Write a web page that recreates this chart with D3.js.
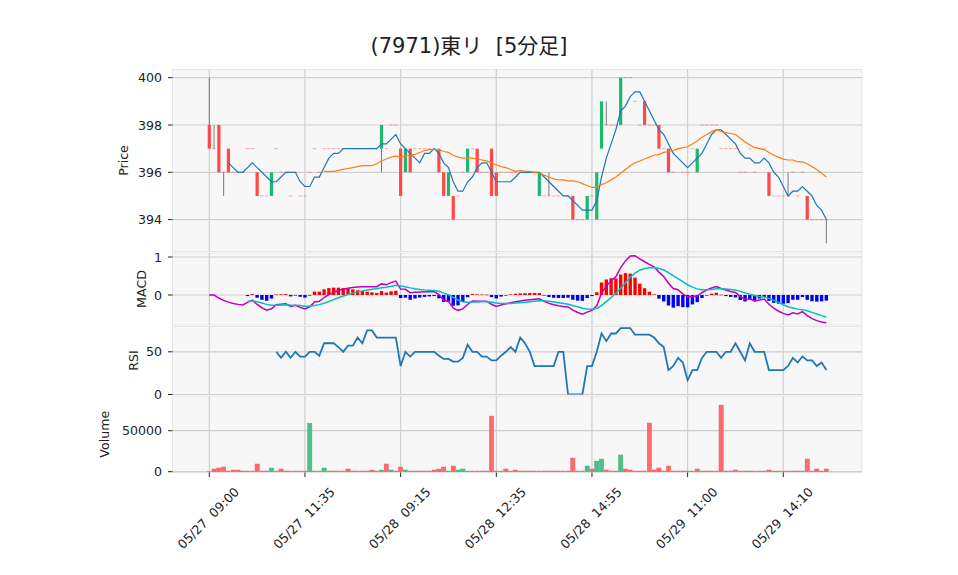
<!DOCTYPE html>
<html><head><meta charset="utf-8">
<script src="https://cdn.jsdelivr.net/npm/d3@7"></script>
<style>
body{margin:0;background:#fff}
text{font-family:"DejaVu Sans","Noto Sans CJK JP",sans-serif;fill:#222}
</style></head>
<body><svg id="c" width="958" height="575"></svg>
<script>
// ---- data ----
const title = "(7971)東リ  [5分足]";
const closes = [397,397,396,396,396,396,396,396,397,397,395,395,395,396,397,396,396,395,396,395,
395,396,397,396,397,397,397,397,397,397,397,397,397,397,397,397,398,397,398,398,
395,397,396,397,397,397,397,397,396,395,396,394,395,396,397,397,396,396,396,395,
395,396,396,396,396,396,396,396,396,396,395,395,395,395,395,395,394,394,394,395,
395,396,399,398,398,398,400,400,400,399,398,398,398,398,397,397,396,396,397,396,
396,397,397,398,398,398,398,397,397,397,397,396,396,397,396,397,397,395,395,395,
395,395,396,395,396,394,394,394,394,394];
const opens = [398,397,398,396,397,396,396,396,397,397,396,395,395,395,397,396,396,395,396,395,
395,396,397,396,397,397,397,397,397,397,397,397,397,397,397,397,397,397,398,398,
397,396,397,397,397,397,397,397,397,396,395,395,395,396,396,397,397,396,396,397,
396,396,396,396,396,396,396,396,396,395,395,395,395,395,395,395,395,394,394,394,
395,394,397,398,398,398,398,400,400,399,398,399,398,398,398,397,397,396,397,396,
396,397,396,398,398,398,398,397,397,397,397,396,396,397,396,397,397,396,395,395,
395,395,396,395,396,395,394,394,394,394];
const highs = [400,398,398,396,397,396,396,396,397,397,396,395,395,396,397,396,396,395,396,395,
395,396,397,396,397,397,397,397,397,397,397,397,397,397,397,397,398,397,398,398,
397,397,397,397,397,397,397,397,397,396,396,395,395,396,397,397,397,396,396,397,
396,396,396,396,396,396,396,396,396,396,395,396,395,395,395,395,395,394,394,395,
395,396,399,399,398,398,400,400,400,399,398,399,398,398,398,397,397,396,397,396,
396,397,397,398,398,398,398,397,397,397,397,396,396,397,396,397,397,396,395,395,
395,396,396,395,396,395,394,394,394,394];
const lows = [397,397,396,395,396,396,396,396,397,397,395,395,395,395,397,396,396,395,396,395,
395,396,397,396,397,397,397,397,397,397,397,397,397,397,397,397,396,397,398,398,
395,396,396,397,397,397,397,397,396,395,395,394,395,396,396,397,396,396,396,395,
395,396,396,396,396,396,396,396,396,395,395,395,395,395,395,395,394,394,394,394,
395,394,397,398,398,398,398,400,400,399,398,398,398,398,397,397,396,396,397,396,
396,397,396,398,398,398,398,397,397,397,397,396,396,397,396,397,397,395,395,395,
395,395,396,395,396,394,394,394,394,393];
const volumes = [300,3250,4470,5690,800,2030,2030,800,800,800,9340,800,800,4470,800,3250,800,800,800,800,
800,59000,800,800,4470,800,800,800,800,3250,800,800,800,800,2000,800,2030,9340,2030,800,
5690,2030,800,800,800,800,800,2030,3250,5690,800,6900,2030,3250,800,800,800,800,800,67800,
800,800,3250,800,2030,800,800,800,800,800,800,800,800,800,800,800,16600,800,800,6900,
3250,12900,15400,2030,800,800,20300,3250,2030,800,800,800,59300,2030,4470,800,6900,800,800,800,
800,800,3250,800,800,800,800,81200,800,800,2030,800,800,800,800,800,800,2030,800,800,
800,800,800,800,800,15400,800,3250,800,3250];
const tickIndex = [0,20,40,60,80,100,120];
const tickLabels = ["05/27  09:00","05/27  11:35","05/28  09:15","05/28  12:35","05/28  14:55","05/29  11:00","05/29  14:10"];
const priceTicks = [394,396,398,400];
const macdTicks = [0,1];
const rsiTicks = [0,50];
const volTicks = [0,50000];

// ---- indicators derived from the closes (as in the original chart) ----
function sma(a,n){return a.map((v,i)=> i<n-1?null:d3.mean(a.slice(i-n+1,i+1)));}
function ema(a,n){const k=2/(n+1);let out=[];a.forEach((v,i)=>{out.push(i===0?v:k*v+(1-k)*out[i-1]);});return out;}
const ma5 = sma(closes,5), ma25 = sma(closes,25);
const e12 = ema(closes,12), e26 = ema(closes,26);
const macd = e12.map((v,i)=>v-e26[i]);
const sigFull = ema(macd,9);
const signal = sigFull.map((v,i)=> i<8?null:v);
const hist = macd.map((v,i)=> i<8?null:v-sigFull[i]);
const rsi = closes.map((v,i)=>{
  if(i<14) return null;
  let g=0,l=0;
  for(let j=i-13;j<=i;j++){const d=closes[j]-closes[j-1]; if(d>0)g+=d; else l-=d;}
  if(g+l===0) return null;
  return 100*g/(g+l);
});

// ---- layout ----
const svg = d3.select("#c");
const L=172.5, R=862;
const FS=12.6;
const x = d3.scaleLinear().domain([0,120]).range([209.3,783.3]);
const panels = {
  price:{top:69.5,bottom:251.5,y:d3.scaleLinear().domain([394,400]).range([219.6,77.7]),ticks:priceTicks,label:"Price",lx:123},
  macd:{top:253,bottom:325,y:d3.scaleLinear().domain([0,1]).range([295,257]),ticks:macdTicks,label:"MACD",lx:141},
  rsi:{top:326.5,bottom:394.5,y:d3.scaleLinear().domain([0,50]).range([394.5,351.8]),ticks:rsiTicks,label:"RSI",lx:133},
  vol:{top:396,bottom:472.5,y:d3.scaleLinear().domain([0,50000]).range([471.7,430.7]),ticks:volTicks,label:"Volume",lx:104}
};

Object.values(panels).forEach(p=>{
  const g = svg.append("g");
  g.append("rect").attr("x",L).attr("y",p.top).attr("width",R-L).attr("height",p.bottom-p.top)
    .attr("fill","#f7f7f7").attr("stroke","#e6e6e6").attr("stroke-width",1);
  tickIndex.forEach(t=>{
    g.append("line").attr("x1",x(t)).attr("x2",x(t)).attr("y1",p.top).attr("y2",p.bottom)
      .attr("stroke","#cfcfcf").attr("stroke-width",1.2);
  });
  p.ticks.forEach(t=>{
    const yy=p.y(t);
    g.append("line").attr("x1",L).attr("x2",R).attr("y1",yy).attr("y2",yy).attr("stroke","#cfcfcf").attr("stroke-width",1.2);
    g.append("line").attr("x1",L-4.5).attr("x2",L).attr("y1",yy).attr("y2",yy).attr("stroke","#222").attr("stroke-width",1);
    g.append("text").attr("x",L-10.5).attr("y",yy).attr("dy","0.36em").attr("text-anchor","end")
      .attr("font-size",FS).text(t);
  });
  g.append("text").attr("transform",`translate(${p.lx},${(p.top+p.bottom)/2}) rotate(-90)`)
    .attr("text-anchor","middle").attr("dy","0.36em").attr("font-size",FS).text(p.label);
});

Object.entries(panels).forEach(([k,p])=>{
  svg.append("clipPath").attr("id","clip-"+k).append("rect").attr("x",L).attr("y",p.top).attr("width",R-L).attr("height",p.bottom-p.top);
});

const idx = d3.range(closes.length);
const RED="#ff4848", GREEN="#1ab870";
// candles
const pc = svg.append("g").attr("clip-path","url(#clip-price)");
const py = panels.price.y;
idx.forEach(i=>{
  const o=opens[i],c=closes[i],h=highs[i],l=lows[i];
  const top=Math.max(o,c), bot=Math.min(o,c);
  if(h>top) pc.append("line").attr("x1",x(i)).attr("x2",x(i)).attr("y1",py(h)).attr("y2",py(top)).attr("stroke","#7a7a7a").attr("stroke-width",1);
  if(l<bot) pc.append("line").attr("x1",x(i)).attr("x2",x(i)).attr("y1",py(bot)).attr("y2",py(l)).attr("stroke","#7a7a7a").attr("stroke-width",1);
  if(o===c){
    pc.append("rect").attr("x",x(i)-1.7).attr("y",py(c)-0.5).attr("width",3.4).attr("height",1)
      .attr("fill",RED).attr("opacity",0.45);
  } else {
    pc.append("rect").attr("x",x(i)-1.6).attr("y",py(top)).attr("width",3.2).attr("height",py(bot)-py(top))
      .attr("fill",c>o?GREEN:RED);
  }
});
const lineGen=(ys,yScale)=>d3.line().defined(i=>ys[i]!==null).x(i=>x(i)).y(i=>yScale(ys[i]))(idx);
pc.append("path").attr("d",lineGen(ma5,py)).attr("fill","none").attr("stroke","#1f77b4").attr("stroke-width",1.2);
pc.append("path").attr("d",lineGen(ma25,py)).attr("fill","none").attr("stroke","#ff7f0e").attr("stroke-width",1.2);

// MACD
const mg = svg.append("g").attr("clip-path","url(#clip-macd)");
const my = panels.macd.y;
idx.forEach(i=>{
  if(hist[i]===null) return;
  const v=hist[i];
  mg.append("rect").attr("x",x(i)-1.7).attr("width",3.4)
    .attr("y",Math.min(my(v),my(0))).attr("height",Math.max(0.6,Math.abs(my(v)-my(0))))
    .attr("fill",v>=0?"#ff0000":"#0000ff");
});
mg.append("path").attr("d",lineGen(macd,my)).attr("fill","none").attr("stroke","#c000c0").attr("stroke-width",1.5);
mg.append("path").attr("d",lineGen(signal,my)).attr("fill","none").attr("stroke","#00bfbf").attr("stroke-width",1.5);

// RSI
const rg = svg.append("g").attr("clip-path","url(#clip-rsi)");
rg.append("path").attr("d",lineGen(rsi,panels.rsi.y)).attr("fill","none").attr("stroke","#1f77b4").attr("stroke-width",1.8);

// Volume (coloured by close vs previous close)
const vg = svg.append("g").attr("clip-path","url(#clip-vol)");
const vy = panels.vol.y;
idx.forEach(i=>{
  const up = i>0 && closes[i]>closes[i-1];
  vg.append("rect").attr("x",x(i)-2.1).attr("width",4.2).attr("y",vy(volumes[i])).attr("height",vy(0)-vy(volumes[i]))
    .attr("fill",up?"#4cc08a":"#ff6b6b").attr("stroke",up?"#33b077":"#f25252").attr("stroke-width",0.5);
});

// x axis
const xb = panels.vol.bottom;
tickIndex.forEach((t,k)=>{
  svg.append("line").attr("x1",x(t)).attr("x2",x(t)).attr("y1",xb).attr("y2",xb+4.5).attr("stroke","#222");
  svg.append("text").attr("transform",`translate(${x(t)-1},${518}) rotate(-45)`)
    .attr("text-anchor","middle").attr("font-size",FS).attr("dy","0.36em").style("white-space","pre").text(tickLabels[k]);
});
// title
svg.append("text").attr("x",469).attr("y",53).attr("text-anchor","middle").attr("font-size",21).style("white-space","pre").text(title);
</script>
</body></html>
